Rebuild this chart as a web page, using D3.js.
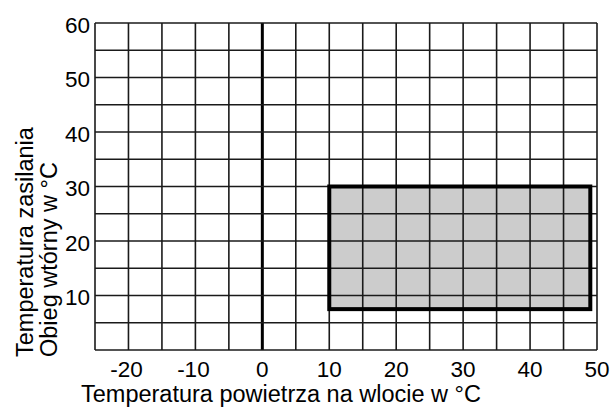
<!DOCTYPE html>
<html lang="pl">
<head>
<meta charset="UTF-8">
<script src="https://cdn.jsdelivr.net/npm/d3@7.9.0/dist/d3.min.js"></script>
<style>
  body { margin: 0; background: #fff; }
  svg { display: block; }
  text { font-family: "Liberation Sans", Arial, sans-serif; fill: #000; }
</style>
</head>
<body>
<svg id="chart" width="611" height="407"></svg>
<script>
// --- data ---
const xDomain = [-25, 50];
const yDomain = [0, 60];
const xTickLabels = [-20, -10, 0, 10, 20, 30, 40, 50];
const yTickLabels = [10, 20, 30, 40, 50, 60];
const gridStep = 5;
// operating range: air inlet temperature x supply temperature
const rangeX = [10, 49];
const rangeY = [7.5, 30];

const xTitle = "Temperatura powietrza na wlocie w °C";
const yTitleLines = ["Temperatura zasilania", "Obieg wtórny w °C"];

// --- layout ---
const plot = { left: 95, right: 597, top: 23, bottom: 350 };

const x = d3.scaleLinear().domain(xDomain).range([plot.left, plot.right]);
const y = d3.scaleLinear().domain(yDomain).range([plot.bottom, plot.top]);

const svg = d3.select("#chart");

// shaded area first, grid drawn over it
svg.append("rect")
    .attr("x", x(rangeX[0]))
    .attr("y", y(rangeY[1]))
    .attr("width", x(rangeX[1]) - x(rangeX[0]))
    .attr("height", y(rangeY[0]) - y(rangeY[1]))
    .attr("fill", "#cccccc");

const xGrid = d3.range(xDomain[0], xDomain[1] + 0.001, gridStep);
const yGrid = d3.range(yDomain[0], yDomain[1] + 0.001, gridStep);

const grid = svg.append("g")
    .attr("stroke", "#1a1a1a")
    .attr("stroke-width", 1.6);

grid.selectAll("line.v")
    .data(xGrid)
    .enter().append("line")
    .attr("class", "v")
    .attr("x1", d => x(d)).attr("x2", d => x(d))
    .attr("y1", plot.top).attr("y2", plot.bottom)
    .attr("stroke-width", d => d === 0 ? 3 : 1.6)
    .attr("stroke", d => d === 0 ? "#000" : "#1a1a1a");

grid.selectAll("line.h")
    .data(yGrid)
    .enter().append("line")
    .attr("class", "h")
    .attr("x1", plot.left).attr("x2", plot.right)
    .attr("y1", d => y(d)).attr("y2", d => y(d));

// range outline
svg.append("rect")
    .attr("x", x(rangeX[0]))
    .attr("y", y(rangeY[1]))
    .attr("width", x(rangeX[1]) - x(rangeX[0]))
    .attr("height", y(rangeY[0]) - y(rangeY[1]))
    .attr("fill", "none")
    .attr("stroke", "#000")
    .attr("stroke-width", 4);

// tick labels
svg.append("g").selectAll("text")
    .data(xTickLabels)
    .enter().append("text")
    .attr("x", d => x(d) - (d < 0 ? 2 : 0))
    .attr("y", 377)
    .attr("text-anchor", "middle")
    .attr("font-size", 22.5)
    .text(d => d);

svg.append("g").selectAll("text")
    .data(yTickLabels)
    .enter().append("text")
    .attr("x", 90)
    .attr("y", d => y(d) + 2)
    .attr("dy", "0.35em")
    .attr("text-anchor", "end")
    .attr("font-size", 22.5)
    .text(d => d);

// axis titles
svg.append("text")
    .attr("x", 81)
    .attr("y", 402)
    .attr("font-size", 23.5)
    .text(xTitle);

svg.selectAll("text.ytitle")
    .data(yTitleLines)
    .enter().append("text")
    .attr("class", "ytitle")
    .attr("transform", (d, i) => `translate(${33 + i * 24},357) rotate(-90)`)
    .attr("font-size", 23.5)
    .text(d => d);
</script>
</body>
</html>
